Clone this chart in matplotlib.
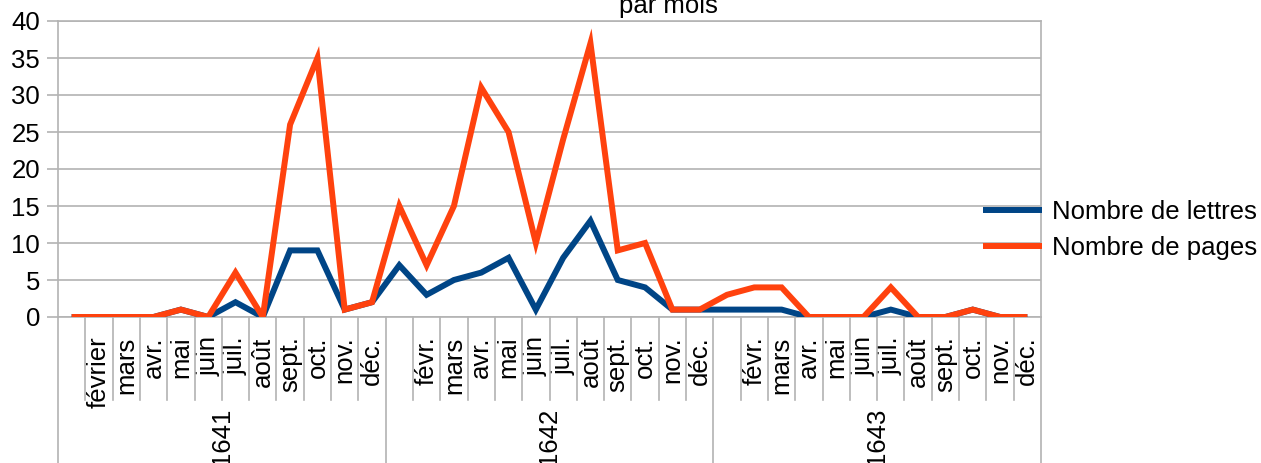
import matplotlib
matplotlib.use("Agg")
import matplotlib.pyplot as plt
from matplotlib import transforms

plt.rcParams['font.family'] = ['Liberation Sans', 'DejaVu Sans']

years = ["1641", "1642", "1643"]
months = ["", "février", "mars", "avr.", "mai", "juin", "juil.", "août", "sept.", "oct.", "nov.", "déc.",
          "", "févr.", "mars", "avr.", "mai", "juin", "juil.", "août", "sept.", "oct.", "nov.", "déc.",
          "", "févr.", "mars", "avr.", "mai", "juin", "juil.", "août", "sept.", "oct.", "nov.", "déc."]
lettres = [0, 0, 0, 0, 1, 0, 2, 0, 9, 9, 1, 2,
           7, 3, 5, 6, 8, 1, 8, 13, 5, 4, 1, 1,
           1, 1, 1, 0, 0, 0, 1, 0, 0, 1, 0, 0]
pages = [0, 0, 0, 0, 1, 0, 6, 0, 26, 35, 1, 2,
         15, 7, 15, 31, 25, 10, 24, 37, 9, 10, 1, 1,
         3, 4, 4, 0, 0, 0, 4, 0, 0, 1, 0, 0]
series_names = ["Nombre de lettres", "Nombre de pages"]
colors = ["#004586", "#ff420e"]

W, H = 1261, 463
fig = plt.figure(figsize=(W / 100, H / 100), dpi=100)
L, R, T, B = 58, 1041, 21, 317
ax = fig.add_axes([L / W, 1 - B / H, (R - L) / W, (B - T) / H])

n = len(months)
x = list(range(n))
grid_c = "#b3b3b3"
fs = 18.5

for vals, name, c in zip([lettres, pages], series_names, colors):
    ax.plot(x, vals, color=c, lw=4.3, label=name, solid_joinstyle='miter',
            solid_capstyle='butt', zorder=3)

ax.set_xlim(-0.5, n - 0.5)
ax.set_ylim(0, 40)
ax.set_yticks(range(0, 41, 5))
ax.yaxis.grid(True, color=grid_c, lw=1.2, zorder=0)
ax.tick_params(axis='y', length=8, width=1.2, color=grid_c, pad=5, labelsize=fs)
for s in ['left', 'right', 'top', 'bottom']:
    ax.spines[s].set_color(grid_c)
    ax.spines[s].set_linewidth(1.2)

ax.set_xticks(x)
ax.set_xticklabels(months, rotation=90, fontsize=fs, va='top', ha='center')
ax.tick_params(axis='x', length=0, pad=14)

trans = transforms.blended_transform_factory(ax.transData, ax.transAxes)
h_ax = (B - T)
month_bottom = -(400 - B) / h_ax
year_bottom = -(H + 5 - B) / h_ax
for i in range(n + 1):
    xb = i - 0.5
    if i % 12 == 0:
        ax.plot([xb, xb], [0, year_bottom], transform=trans, color=grid_c, lw=1.2, clip_on=False)
    else:
        ax.plot([xb, xb], [0, month_bottom], transform=trans, color=grid_c, lw=1.2, clip_on=False)

year_top = -(408 - B) / h_ax
for k, yr in enumerate(years):
    xc = k * 12 + 5.5
    ax.text(xc, year_top, yr, transform=trans, rotation=90, ha='center', va='top', fontsize=fs)

fig.text(668 / W, 1 - 13 / H, "par mois", ha='center', va='baseline', fontsize=fs)

fig.legend(loc='center left', bbox_to_anchor=(983 / W, 1 - 230 / H), frameon=False,
           fontsize=fs, handlelength=2.3, handletextpad=0.4, labelspacing=0.5,
           borderpad=0, borderaxespad=0)

fig.savefig("out.png", dpi=100)
